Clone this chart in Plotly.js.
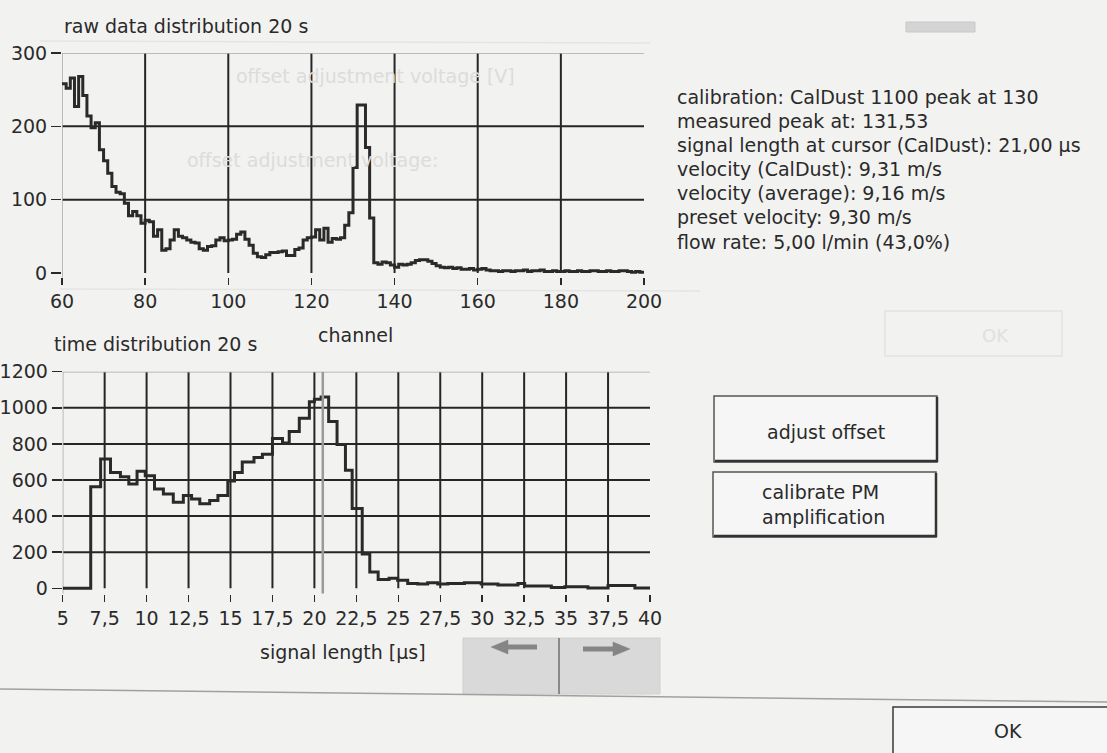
<!DOCTYPE html>
<html>
<head>
<meta charset="utf-8">
<script src="https://cdn.plot.ly/plotly-3.0.1.min.js"></script>
<style>
html,body{margin:0;padding:0;background:#f2f2f0;}
#chart{width:1107px;height:753px;}
</style>
</head>
<body>
<div id="chart"></div>
<script>
// ---------- data ----------
const rawFirstChannel = 60;
const rawCounts = [
 258,252,266,227,268,242,214,198,205,168,
 153,136,118,110,108,95,78,84,78,68,
 72,70,50,59,31,33,45,59,50,48,
 45,42,41,33,31,36,37,45,48,44,
 45,46,53,56,46,38,27,22,21,25,
 28,28,29,30,24,24,32,34,45,48,
 49,59,45,61,42,47,46,48,65,82,
 144,229,229,171,75,14,12,15,14,11,
 8,12,11,12,14,17,18,18,16,13,
 10,8,7,8,6,7,5,5,6,4,
 5,6,4,3,3,2,3,3,2,3,
 3,4,2,3,3,4,2,2,3,2,
 2,3,2,2,3,2,2,3,3,2,
 2,3,2,2,3,3,2,1,2,1
];
const rawTickVals = [60,80,100,120,140,160,180,200];
const rawYTicks = [0,100,200,300];

const timeEdges = [5.0,6.67,7.26,7.85,8.44,8.94,9.43,9.92,10.47,11.0,
 11.59,12.19,12.68,13.17,13.76,14.25,14.84,15.24,15.7,16.4,
 16.9,17.5,18.1,18.5,19.1,19.7,20.0,20.4,20.85,21.35,
 21.85,22.25,22.85,23.3,23.8,24.45,24.96,25.56,26.16,26.75,
 27.35,27.95,28.94,29.94,30.94,32.13,32.53,34.12,34.92,36.3,
 37.5,39.1];
const timeCounts = [0,563,716,642,618,578,648,624,550,523,
 477,514,495,468,486,514,595,642,700,724,
 742,830,805,869,942,1033,1047,1060,924,796,
 654,442,190,90,49,55,45,27,24,31,
 24,27,31,24,18,27,13,5,9,2,
 15,2];
const timeEnd = 40;
const timeTickVals = [5,7.5,10,12.5,15,17.5,20,22.5,25,27.5,30,32.5,35,37.5,40];
const timeTickText = ["5","7,5","10","12,5","15","17,5","20","22,5","25","27,5","30","32,5","35","37,5","40"];
const timeYTicks = [0,200,400,600,800,1000,1200];
const cursorSignalLength = 20.5;

const infoLines = [
 "calibration: CalDust 1100 peak at 130",
 "measured peak at: 131,53",
 "signal length at cursor (CalDust): 21,00 µs",
 "velocity (CalDust): 9,31 m/s",
 "velocity (average): 9,16 m/s",
 "preset velocity: 9,30 m/s",
 "flow rate: 5,00 l/min (43,0%)"
];

// ---------- helpers ----------
const W = 1107, H = 753;
const PX = x => x / W;
const PY = y => 1 - y / H;
const FONT = "DejaVu Sans";
const INK = "#2a2a2a";
const GRID = "#262626";
const FRAME = "#a8a8a8";

const rawX = rawCounts.map((_, i) => rawFirstChannel + i);
const rawXs = rawX.concat([rawX[rawX.length - 1] + 1]);
const rawYs = rawCounts.concat([rawCounts[rawCounts.length - 1]]);
const timeXs = timeEdges.concat([timeEnd]);
const timeYs = timeCounts.concat([timeCounts[timeCounts.length - 1]]);

const traces = [
 {x: rawXs, y: rawYs, xaxis: "x", yaxis: "y", mode: "lines",
  line: {shape: "hv", color: INK, width: 3}, hoverinfo: "skip"},
 {x: timeXs, y: timeYs, xaxis: "x2", yaxis: "y2", mode: "lines",
  line: {shape: "hv", color: INK, width: 3}, hoverinfo: "skip"}
];

const shapes = [];
// top chart grid
rawTickVals.slice(1, -1).forEach(v => shapes.push({type: "line", xref: "x", yref: "y", x0: v, x1: v, y0: 0, y1: 300, line: {color: GRID, width: 2}, layer: "below"}));
[100, 200].forEach(v => shapes.push({type: "line", xref: "x", yref: "y", x0: 60, x1: 200, y0: v, y1: v, line: {color: GRID, width: 2}, layer: "below"}));
shapes.push({type: "line", xref: "x", yref: "y", x0: 60, x1: 200, y0: 300, y1: 300, line: {color: FRAME, width: 1.5}, layer: "below"});
shapes.push({type: "line", xref: "x", yref: "y", x0: 60, x1: 60, y0: -8, y1: 300, line: {color: FRAME, width: 1.5}, layer: "below"});
// bottom chart grid
timeTickVals.slice(1, -1).forEach(v => shapes.push({type: "line", xref: "x2", yref: "y2", x0: v, x1: v, y0: 0, y1: 1200, line: {color: GRID, width: 2}, layer: "below"}));
[200, 400, 600, 800, 1000].forEach(v => shapes.push({type: "line", xref: "x2", yref: "y2", x0: 5, x1: 40, y0: v, y1: v, line: {color: GRID, width: 2}, layer: "below"}));
shapes.push({type: "line", xref: "x2", yref: "y2", x0: 5, x1: 40, y0: 1200, y1: 1200, line: {color: FRAME, width: 1.5}, layer: "below"});
shapes.push({type: "line", xref: "x2", yref: "y2", x0: 5, x1: 5, y0: -30, y1: 1200, line: {color: FRAME, width: 1.5}, layer: "below"});
// cursor
shapes.push({type: "line", xref: "x2", yref: "y2", x0: cursorSignalLength, x1: cursorSignalLength, y0: -30, y1: 1200, line: {color: "#9a9a9a", width: 2.5}});

function rectPx(x0, y0, x1, y1, fill, lineColor, lw) {
 return {type: "rect", xref: "paper", yref: "paper", x0: PX(x0), x1: PX(x1), y0: PY(y1), y1: PY(y0),
  fillcolor: fill, line: {color: lineColor, width: lw}};
}
function linePx(x0, y0, x1, y1, color, lw) {
 return {type: "line", xref: "paper", yref: "paper", x0: PX(x0), x1: PX(x1), y0: PY(y0), y1: PY(y1), line: {color: color, width: lw}};
}
function pathPx(pts, fill) {
 const d = pts.map((p, i) => (i ? "L" : "M") + PX(p[0]).toFixed(5) + "," + PY(p[1]).toFixed(5)).join(" ") + " Z";
 return {type: "path", xref: "paper", yref: "paper", path: d, fillcolor: fill, line: {color: fill, width: 0.5}};
}

// ghost artifacts of the photographed screen
shapes.push(rectPx(906, 22, 975, 32, "#d4d4d4", "#c8c8c8", 1));
shapes.push(rectPx(885, 311, 1062, 356, "rgba(0,0,0,0)", "#e2e2e2", 1.5));
shapes.push(linePx(40, 41, 650, 43, "#e4e4e4", 1.5));
shapes.push(linePx(60, 289, 700, 291, "#e4e4e4", 1.5));

// buttons
shapes.push(rectPx(714, 396, 937, 462, "#f6f6f6", "#555555", 1.5));
shapes.push(linePx(715, 461, 938, 461, "#333333", 2.5));
shapes.push(linePx(937, 397, 937, 462, "#333333", 2.5));
shapes.push(rectPx(713, 472, 936, 537, "#f6f6f6", "#555555", 1.5));
shapes.push(linePx(714, 536, 937, 536, "#333333", 2.5));
shapes.push(linePx(936, 473, 936, 537, "#333333", 2.5));

// arrow buttons
shapes.push(rectPx(463, 638, 660, 694, "#d9d9d9", "#d0d0d0", 1));
shapes.push(linePx(559, 638, 559, 694, "#6f6f6f", 1.5));
shapes.push(linePx(503, 647, 537, 647, "#858585", 5));
shapes.push(pathPx([[491, 647], [508, 640], [508, 654]], "#858585"));
shapes.push(linePx(583, 649, 617, 649, "#858585", 5));
shapes.push(pathPx([[630, 649], [613, 642], [613, 656]], "#858585"));

// bottom separator and OK button
shapes.push(linePx(0, 689, 1107, 702, "#a0a0a0", 1.5));
shapes.push(rectPx(893, 707, 1112, 760, "#f6f6f6", "#3a3a3a", 1.5));

const annotations = [];
function textPx(x, y, text, opt) {
 opt = opt || {};
 annotations.push({xref: "paper", yref: "paper", x: PX(x), y: PY(y), text: text, showarrow: false,
  xanchor: opt.anchor || "left", yanchor: "middle", align: opt.align || "left",
  font: {family: opt.family || FONT, size: opt.size || 19, color: opt.color || INK}});
}
// ghost texts
textPx(375, 76, "offset adjustment voltage [V]", {anchor: "center", color: "#dcdcdc", size: 19});
textPx(185, 160, "offset adjustment voltage:", {color: "#dcdcdc", size: 19});
textPx(995, 335, "OK", {anchor: "center", color: "#e0e0e0", size: 18});

// titles
textPx(62, 26, "raw data distribution 20 s");
textPx(52, 344, "time distribution 20 s");
textPx(355, 335, "channel", {anchor: "center"});
textPx(343, 652, "signal length [µs]", {anchor: "center"});
// info
infoLines.forEach((s, i) => textPx(675, 97 + 24.1 * i, s));
// button labels
textPx(826, 432, "adjust offset", {anchor: "center"});
textPx(760, 505, "calibrate PM<br>amplification", {anchor: "left"});
textPx(1008, 731, "OK", {anchor: "center"});

const tickFont = {family: FONT, size: 19, color: INK};
const layout = {
 width: W, height: H,
 margin: {l: 0, r: 0, t: 0, b: 0},
 paper_bgcolor: "#f2f2f0", plot_bgcolor: "rgba(0,0,0,0)",
 showlegend: false,
 xaxis: {domain: [PX(62), PX(644)], range: [60, 200], tickvals: rawTickVals, ticks: "outside", ticklen: 7, tickwidth: 1.5, tickcolor: INK,
  showgrid: false, zeroline: false, showline: false, tickfont: tickFont, anchor: "y", fixedrange: true},
 yaxis: {domain: [PY(277.4), PY(53)], range: [-6, 300], tickvals: rawYTicks, ticks: "outside", ticklen: 10, tickwidth: 1.5, tickcolor: INK,
  showgrid: false, zeroline: false, showline: false, tickfont: tickFont, anchor: "x", fixedrange: true},
 xaxis2: {domain: [PX(62.7), PX(650)], range: [5, 40], tickvals: timeTickVals, ticktext: timeTickText, ticks: "outside", ticklen: 7, tickwidth: 1.5, tickcolor: INK,
  showgrid: false, zeroline: false, showline: false, tickfont: tickFont, anchor: "y2", fixedrange: true},
 yaxis2: {domain: [PY(593.7), PY(371.7)], range: [-30, 1200], tickvals: timeYTicks, ticks: "outside", ticklen: 10, tickwidth: 1.5, tickcolor: INK,
  showgrid: false, zeroline: false, showline: false, tickfont: tickFont, anchor: "x2", fixedrange: true},
 shapes: shapes,
 annotations: annotations
};

Plotly.newPlot("chart", traces, layout, {displayModeBar: false, staticPlot: true});
</script>
</body>
</html>
